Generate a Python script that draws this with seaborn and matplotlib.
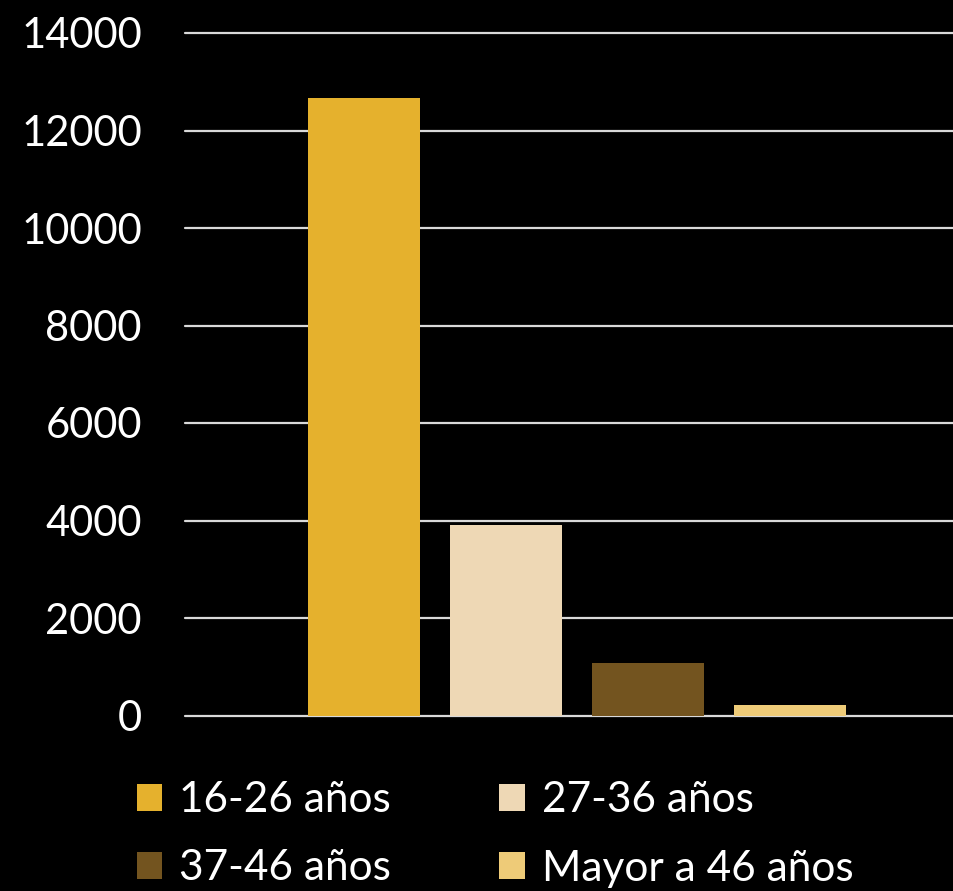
import matplotlib
matplotlib.use("Agg")
import matplotlib.pyplot as plt
import seaborn as sns

# Datos
grupos = ["16-26 años", "27-36 años", "37-46 años", "Mayor a 46 años"]
valores = [12670, 3900, 1075, 215]
colores = ["#E5B12D", "#EED8B5", "#73541F", "#EECB78"]
ticks_y = [0, 2000, 4000, 6000, 8000, 10000, 12000, 14000]

sns.set_style("dark")
plt.rcParams["font.family"] = ["Lato", "DejaVu Sans"]

fig = plt.figure(figsize=(9.54, 8.91), dpi=100, facecolor="black")
ax = fig.add_axes([185 / 954, 1 - 715.5 / 891, 784 / 954, 682.5 / 891])
ax.set_facecolor("black")

sns.barplot(x=grupos, y=valores, hue=grupos, palette=colores, width=0.79,
            saturation=1, linewidth=0, edgecolor="none", ax=ax, legend=True)
handles, labels = ax.get_legend_handles_labels()
ax.get_legend().remove()

ax.set_ylim(0, 14000)
ax.set_xlim(-1.26, 4.26)
ax.set_yticks(ticks_y)
ax.set_yticklabels([str(t) for t in ticks_y])
ax.set_xticks([])
ax.set_xlabel("")
ax.set_ylabel("")
ax.tick_params(axis="y", length=0, pad=31, labelsize=30, labelcolor="white")
for s in ax.spines.values():
    s.set_visible(False)

ax.set_axisbelow(True)
ax.grid(axis="y", color="#D9D9D9", linewidth=1.6)
ax.grid(axis="x", visible=False)
for gl in ax.yaxis.get_gridlines():
    gl.set_clip_on(False)

# leyenda en filas: 16-26 | 27-36 / 37-46 | Mayor a 46
orden = [0, 2, 1, 3]
fig.legend([handles[i] for i in orden], [labels[i] for i in orden],
           loc="upper left", bbox_to_anchor=(137 / 954, 1 - 781 / 891),
           ncol=2, frameon=False, fontsize=30.5, labelcolor="white",
           handlelength=0.6, handleheight=0.6, handletextpad=0.4,
           columnspacing=2.55, labelspacing=0.72, borderpad=0, borderaxespad=0)

fig.savefig("out.png", dpi=100, facecolor="black")
